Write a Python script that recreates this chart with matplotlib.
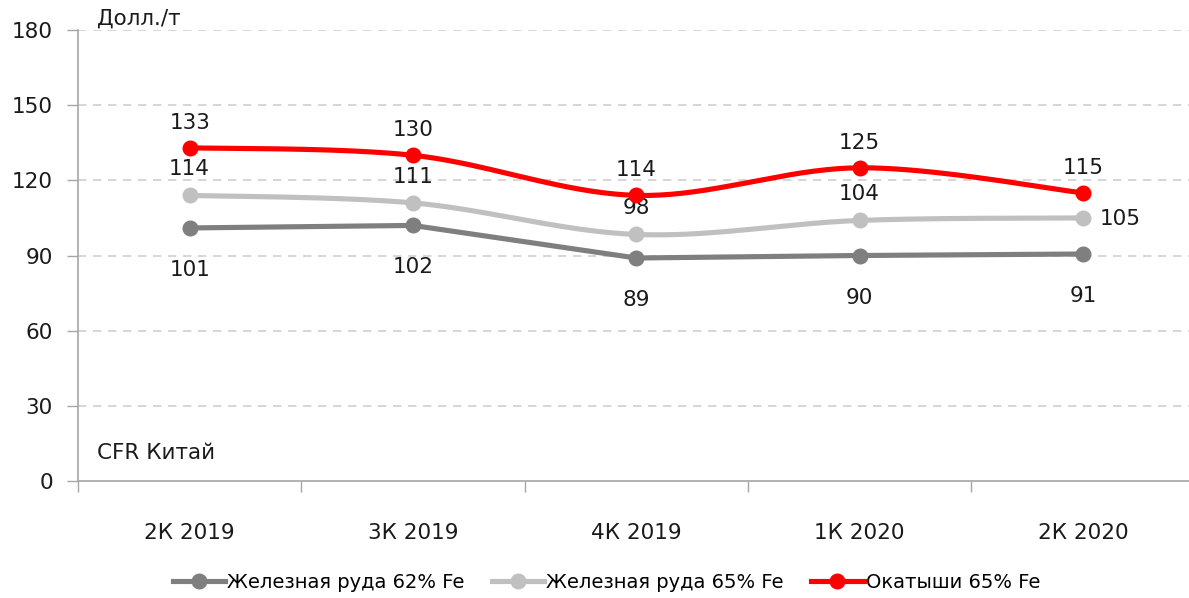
import matplotlib
matplotlib.use("Agg")
import matplotlib.pyplot as plt
import numpy as np
from matplotlib.lines import Line2D

categories = ["2К 2019", "3К 2019", "4К 2019", "1К 2020", "2К 2020"]
ore62 = [101, 102, 89, 90, 90.6]
ore65 = [114, 111, 98.4, 104, 105]
pellets = [133, 130, 114, 125, 115]
series_names = ["Железная руда 62% Fe", "Железная руда 65% Fe", "Окатыши 65% Fe"]
yticks = [0, 30, 60, 90, 120, 150, 180]

plt.rcParams['font.family'] = ['DejaVu Sans']

def smooth(x, y, n=40):
    x = np.asarray(x, float); y = np.asarray(y, float)
    P = np.column_stack([x, y])
    out = []
    for i in range(len(P) - 1):
        p0 = P[i - 1] if i > 0 else P[i]
        p1 = P[i]; p2 = P[i + 1]
        p3 = P[i + 2] if i + 2 < len(P) else P[i + 1]
        c1 = p1 + (p2 - p0) / 6.0
        c2 = p2 - (p3 - p1) / 6.0
        t = np.linspace(0, 1, n)[:, None]
        seg = (1 - t) ** 3 * p1 + 3 * (1 - t) ** 2 * t * c1 + 3 * (1 - t) * t ** 2 * c2 + t ** 3 * p2
        out.append(seg if i == 0 else seg[1:])
    s = np.vstack(out)
    return s[:, 0], s[:, 1]

fig = plt.figure(figsize=(11.89, 5.98), dpi=100)
ax = fig.add_axes([78 / 1189, 117 / 598, 1116.5 / 1189, 451 / 598])
x = np.arange(len(categories))

colors = ["#7f7f7f", "#c0c0c0", "#ff0000"]
data = [ore62, ore65, pellets]
smoothed = [False, True, True]
LW = 3.7
MS = 10.5
for vals, c, sm in zip(data, colors, smoothed):
    if sm:
        sx, sy = smooth(x, vals)
    else:
        sx, sy = x, vals
    ax.plot(sx, sy, color=c, lw=LW, solid_capstyle='round', solid_joinstyle='round', zorder=3)
    ax.plot(x, vals, 'o', color=c, ms=MS, zorder=4)

fs = 15.5
tc = '#1a1a1a'
for i, v in enumerate(ore62):
    ax.annotate(f"{v:.0f}", (i, v), xytext=(0, -42), textcoords='offset pixels',
                ha='center', va='center', fontsize=fs, color=tc)
for i, v in enumerate(ore65):
    if i == len(ore65) - 1:
        ax.annotate(f"{v:.0f}", (i, v), xytext=(37, -1), textcoords='offset pixels',
                    ha='center', va='center', fontsize=fs, color=tc)
    else:
        ax.annotate(f"{v:.0f}", (i, v), xytext=(0, 26), textcoords='offset pixels',
                    ha='center', va='center', fontsize=fs, color=tc)
for i, v in enumerate(pellets):
    ax.annotate(f"{v:.0f}", (i, v), xytext=(0, 25), textcoords='offset pixels',
                ha='center', va='center', fontsize=fs, color=tc)

ax.set_xlim(-0.5, len(categories) - 0.5)
ax.set_ylim(0, 180)
ax.set_yticks(yticks)
ax.set_yticklabels([str(t) for t in yticks], fontsize=fs, color=tc)
ax.tick_params(axis='y', length=8, color='#a6a6a6', width=1, pad=10)
ax.set_xticks(np.arange(-0.5, len(categories), 1.0))
ax.set_xticklabels([])
ax.tick_params(axis='x', which='major', length=8, color='#a6a6a6', width=1)
ax.set_xticks(x, minor=True)
ax.set_xticklabels(categories, minor=True, fontsize=fs, color=tc)
ax.tick_params(axis='x', which='minor', length=0, pad=30)

for t in yticks[1:]:
    ax.axhline(t, color='#d0d0d0', lw=1.2, ls=(0, (5, 4)), zorder=1)

for s in ['top', 'right']:
    ax.spines[s].set_visible(False)
for s in ['left', 'bottom']:
    ax.spines[s].set_color('#a6a6a6')
    ax.spines[s].set_linewidth(1.2)

fig.text(97 / 1189, 1 - 19 / 598, "Долл./т", fontsize=fs, ha='left', va='center', color=tc)
fig.text(97 / 1189, 1 - 453 / 598, "CFR Китай", fontsize=fs, ha='left', va='center', color=tc)

handles = [Line2D([0], [0], color=c, lw=LW, marker='o', ms=MS) for c in colors]
fig.legend(handles, series_names, loc='center', bbox_to_anchor=(0.51, 1 - 582 / 598),
           ncol=3, frameon=False, fontsize=14, handlelength=2.7, columnspacing=1.4, handletextpad=0.1)

fig.savefig("out.png", dpi=100)
